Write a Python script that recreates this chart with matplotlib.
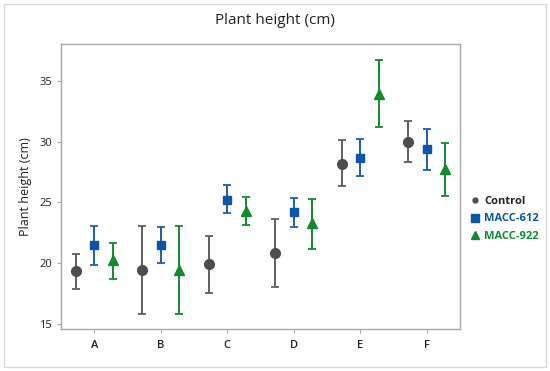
import matplotlib
matplotlib.use("Agg")
import matplotlib.pyplot as plt
from matplotlib.lines import Line2D
from matplotlib.patches import Rectangle
import numpy as np

plt.rcParams['font.family'] = ['Open Sans', 'DejaVu Sans']

categories = ['A', 'B', 'C', 'D', 'E', 'F']
series = ['Control', 'MACC-612', 'MACC-922']

control_mean = [19.37, 19.48, 19.94, 20.87, 28.16, 29.97]
control_low = [17.90, 15.84, 17.57, 18.06, 26.34, 28.33]
control_high = [20.79, 23.08, 22.26, 23.66, 30.10, 31.66]

m612_mean = [21.50, 21.50, 25.24, 24.18, 28.69, 29.40]
m612_low = [19.86, 20.02, 24.10, 22.98, 27.18, 27.70]
m612_high = [23.10, 23.00, 26.47, 25.38, 30.24, 31.03]

m922_mean = [20.27, 19.48, 24.31, 23.28, 33.93, 27.75]
m922_low = [18.74, 15.84, 23.14, 21.17, 31.20, 25.49]
m922_high = [21.69, 23.08, 25.46, 25.25, 36.72, 29.92]

yticks = [15, 20, 25, 30, 35]

colors = ['#4d4d4d', '#0b56a8', '#13892f']
ecolors = ['#606060', '#1a5fb4', '#13892f']
markers = ['o', 's', '^']
msizes = [7.0, 6.0, 6.5]

fig = plt.figure(figsize=(5.5, 3.71), dpi=100)
ax = fig.add_axes([0.111, 0.113, 0.725, 0.768])

x = np.arange(1, len(categories) + 1)
offsets = [-0.28, 0.0, 0.28]
data = [(control_mean, control_low, control_high),
        (m612_mean, m612_low, m612_high),
        (m922_mean, m922_low, m922_high)]

for i, (mean, lo, hi) in enumerate(data):
    mean = np.array(mean); lo = np.array(lo); hi = np.array(hi)
    yerr = np.vstack([mean - lo, hi - mean])
    ax.errorbar(x + offsets[i], mean, yerr=yerr, fmt=markers[i], color=colors[i],
                ecolor=ecolors[i], elinewidth=1.4, capsize=3.2, capthick=1.3,
                markersize=msizes[i], markeredgecolor=colors[i], zorder=3)

ax.set_xlim(0.5, 6.5)
ax.set_ylim(14.6, 38.0)
ax.set_xticks(x)
ax.set_xticklabels(categories, fontsize=8, fontweight='semibold', color='#222222')
ax.set_yticks(yticks)
ax.set_yticklabels([str(v) for v in yticks], fontsize=8, color='#222222')
ax.set_ylabel('Plant height (cm)', fontsize=9, color='#222222', labelpad=5)
for s in ax.spines.values():
    s.set_color('#a8a8a8')
    s.set_linewidth(1.0)
ax.tick_params(axis='both', colors='#a8a8a8', length=3, width=0.8, labelcolor='#222222')
ax.tick_params(axis='x', pad=5)

fig.text(0.5, 0.945, 'Plant height (cm)', ha='center', va='center', fontsize=11, color='#222222')

handles = [Line2D([], [], marker='o', color=colors[0], linestyle='none', markersize=3.5),
           Line2D([], [], marker='s', color=colors[1], linestyle='none', markersize=6),
           Line2D([], [], marker='^', color=colors[2], linestyle='none', markersize=6)]
leg = fig.legend(handles, series, loc='center left', bbox_to_anchor=(0.84, 0.41),
                 frameon=False, handlelength=0.6, handletextpad=0.5, labelspacing=0.55,
                 prop={'size': 8, 'weight': 'bold'})
for t, c in zip(leg.get_texts(), ['#222222', colors[1], colors[2]]):
    t.set_color(c)

fig.patches.append(Rectangle((0.007, 0.01), 0.986, 0.98, transform=fig.transFigure,
                             fill=False, edgecolor='#d8d8d8', linewidth=1.0))

fig.savefig('out.png', dpi=100)
